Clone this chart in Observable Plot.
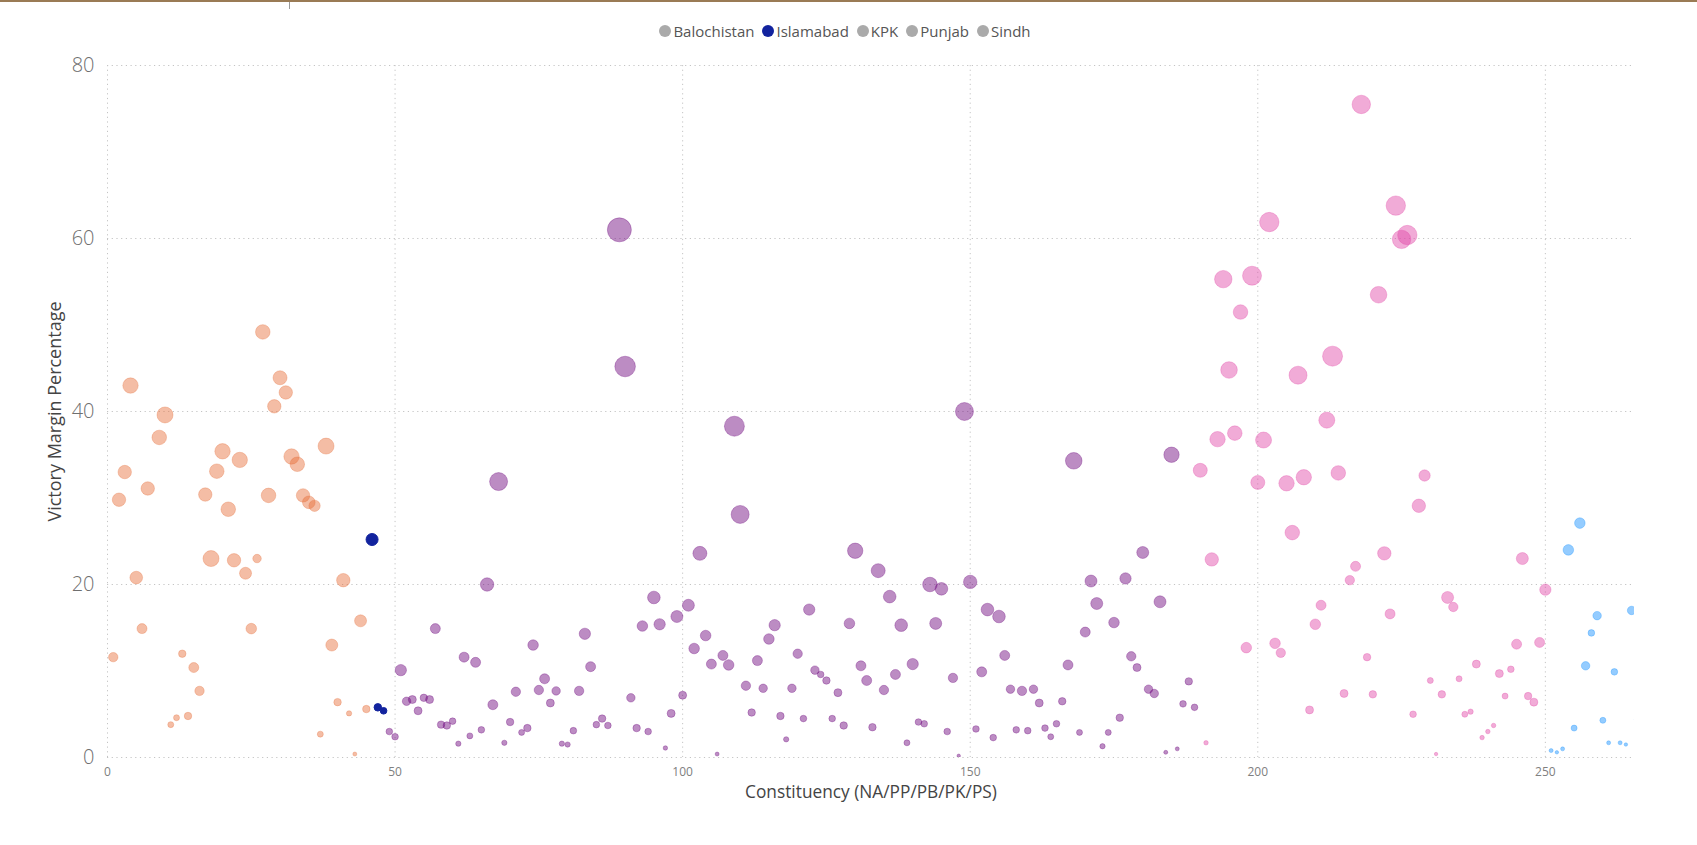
<!DOCTYPE html>
<html><head><meta charset="utf-8">
<script src="https://cdn.jsdelivr.net/npm/d3@7"></script>
<script src="https://cdn.jsdelivr.net/npm/@observablehq/plot@0.6"></script>
<style>
body{margin:0;background:#fff;font-family:"Open Sans","Noto Sans",sans-serif;}
#top{position:relative;height:50px;border-top:2px solid #9a7b55;box-sizing:border-box;}
#tick{position:absolute;left:289px;top:0;width:1px;height:7px;background:#9a9a9a;}
#legend{position:absolute;left:0;width:1690px;top:18.5px;display:flex;justify-content:center;align-items:center;font-size:15px;line-height:20px;color:#555;}
.item{display:flex;align-items:center;margin:0 4px;}
.sw{width:12px;height:12px;border-radius:50%;margin-right:2px;}
</style></head>
<body>
<div id="top"><div id="tick"></div><div id="legend"></div></div>
<div id="chart"></div>
<script>
const provinces = ["Balochistan","Islamabad","KPK","Punjab","Sindh"];
const provinceColors = ["#118DFF","#12239E","#E66C37","#6B007B","#E044A7"];
const legendColors = ["#aaaaaa","#12239E","#aaaaaa","#aaaaaa","#aaaaaa"];
const xTicks = [0,50,100,150,200,250];
const yTicks = [0,20,40,60,80];
const xTitle = "Constituency (NA/PP/PB/PK/PS)";
const yTitle = "Victory Margin Percentage";

// KPK
const kpkSeat = [1,2,3,4,5,6,7,9,10,11,12,13,14,15,16,17,18,19,20,21,22,23,24,25,26,27,28,29,30,31,32,33,34,35,36,37,38,39,40,41,42,43,44,45];
const kpkMargin = [11.6,29.8,33.0,43.0,20.8,14.9,31.1,37.0,39.6,3.8,4.6,12.0,4.8,10.4,7.7,30.4,23.0,33.1,35.4,28.7,22.8,34.4,21.3,14.9,23.0,49.2,30.3,40.6,43.9,42.2,34.8,33.9,30.3,29.5,29.1,2.7,36.0,13.0,6.4,20.5,5.1,0.4,15.8,5.6];
const kpkVotes = [22,45,45,59,40,25,45,53,64,9,9,14,14,25,22,45,64,53,59,53,45,59,36,28,18,53,53,45,49,45,59,53,45,40,32,9,64,36,14,45,7,4,36,14];
// Islamabad
const isbSeat = [46,47,48];
const isbMargin = [25.2,5.8,5.4];
const isbVotes = [36,14,11];
// Punjab
const pbSeat = [49,50,51,52,53,54,55,56,57,58,59,60,61,62,63,64,65,66,67,68,69,70,71,72,73,74,75,76,77,78,79,80,81,82,83,84,85,86,87,89,90,91,92,93,94,95,96,97,98,99,100,101,102,103,104,105,106,107,108,109,110,111,112,113,114,115,116,117,118,119,120,121,122,123,124,125,126,127,128,129,130,131,132,133,134,135,136,137,138,139,140,141,142,143,144,145,146,147,148,149,150,151,152,153,154,155,156,157,158,159,160,161,162,163,164,165,166,167,168,169,170,171,172,173,174,175,176,177,178,179,180,181,182,183,184,185,186,187,188,189];
const pbMargin = [3.0,2.4,10.1,6.5,6.7,5.4,6.9,6.7,14.9,3.8,3.7,4.2,1.6,11.6,2.5,11.0,3.2,20.0,6.1,31.9,1.7,4.1,7.6,2.9,3.4,13.0,7.8,9.1,6.3,7.7,1.6,1.5,3.1,7.7,14.3,10.5,3.8,4.5,3.7,61.0,45.2,6.9,3.4,15.2,3.0,18.5,15.4,1.1,5.1,16.3,7.2,17.6,12.6,23.6,14.1,10.8,0.4,11.8,10.7,38.3,28.1,8.3,5.2,11.2,8.0,13.7,15.3,4.8,2.1,8.0,12.0,4.5,17.1,10.1,9.6,8.9,4.5,7.5,3.7,15.5,23.9,10.6,8.9,3.5,21.6,7.8,18.6,9.6,15.3,1.7,10.8,4.1,3.9,20.0,15.5,19.5,3.0,9.2,0.2,40.0,20.3,3.3,9.9,17.1,2.3,16.3,11.8,7.9,3.2,7.7,3.1,7.9,6.3,3.4,2.4,3.9,6.5,10.7,34.3,2.9,14.5,20.4,17.8,1.3,2.9,15.6,4.6,20.7,11.7,10.4,23.7,7.9,7.4,18.0,0.6,35.0,1.0,6.2,8.8,5.8];
const pbVotes = [11,11,32,18,16,16,14,16,25,14,14,11,7,25,9,25,11,45,25,81,7,14,22,9,14,28,22,25,16,18,7,7,11,22,32,25,11,14,11,144,106,18,14,28,11,40,32,5,16,36,16,36,28,49,28,25,4,25,28,100,81,22,14,25,18,28,32,14,7,18,22,11,32,18,11,14,11,16,14,28,59,25,25,14,49,22,40,25,40,9,32,11,11,53,36,40,11,22,3,81,45,11,25,40,11,40,25,18,11,22,11,18,16,11,9,11,14,25,69,9,25,36,36,7,9,28,14,32,22,16,36,18,18,36,4,59,4,11,14,11];
// Sindh
const sdSeat = [190,191,192,193,194,195,196,197,198,199,200,201,202,203,204,205,206,207,208,209,210,211,212,213,214,215,216,217,218,219,220,221,222,223,224,225,226,227,228,229,230,231,232,233,234,235,236,237,238,239,240,241,242,243,244,245,246,247,248,249,250];
const sdMargin = [33.2,1.7,22.9,36.8,55.3,44.8,37.5,51.5,12.7,55.7,31.8,36.7,61.9,13.2,12.1,31.7,26.0,44.2,32.4,5.5,15.4,17.6,39.0,46.4,32.9,7.4,20.5,22.1,75.5,11.6,7.3,53.5,23.6,16.6,63.8,59.9,60.4,5.0,29.1,32.6,8.9,0.4,7.3,18.5,17.4,9.1,5.0,5.3,10.8,2.3,3.0,3.7,9.7,7.1,10.2,13.1,23.0,7.1,6.4,13.3,19.4];
const sdVotes = [49,5,45,59,76,69,53,53,28,90,49,64,94,28,22,59,53,81,59,16,28,25,64,100,53,16,22,25,85,14,14,69,45,25,94,85,94,11,45,32,9,3,14,36,22,9,9,7,16,5,5,5,16,9,11,25,36,14,16,25,32];
// Balochistan
const blSeat = [251,252,253,254,255,256,257,258,259,260,261,262,263,264,265,266];
const blMargin = [0.8,0.6,1.0,24.0,3.4,27.1,10.6,14.4,16.4,4.3,1.7,9.9,1.7,1.5,17.0,4.4];
const blVotes = [4,3,4,28,9,28,18,11,18,9,4,11,4,3,18,9];

const rows = [];
function add(prov, seat, margin, votes){
  seat.forEach((s,i)=>rows.push({province:prov, seat:s, margin:margin[i], votes:votes[i]}));
}
add("KPK", kpkSeat, kpkMargin, kpkVotes);
add("Islamabad", isbSeat, isbMargin, isbVotes);
add("Punjab", pbSeat, pbMargin, pbVotes);
add("Sindh", sdSeat, sdMargin, sdVotes);
add("Balochistan", blSeat, blMargin, blVotes);

// legend
const lg = document.getElementById("legend");
provinces.forEach((p,i)=>{
  const it = document.createElement("div"); it.className="item";
  const sw = document.createElement("div"); sw.className="sw"; sw.style.background=legendColors[i];
  const tx = document.createElement("span"); tx.textContent=p;
  it.appendChild(sw); it.appendChild(tx); lg.appendChild(it);
});

const others = rows.filter(d=>d.province!=="Islamabad");
const isb = rows.filter(d=>d.province==="Islamabad");
const font = "'Open Sans','Noto Sans',sans-serif";

const chart = Plot.plot({
  width:1697, height:795,
  marginLeft:107, marginRight:63, marginTop:15, marginBottom:88,
  x:{domain:[0,265.5], ticks:xTicks},
  y:{domain:[0,80], ticks:yTicks},
  r:{type:"sqrt", domain:[0,144], range:[0,12]},
  color:{domain:provinces, range:provinceColors},
  style:{fontFamily:font, background:"white", overflow:"visible"},
  marks:[
    Plot.gridY(yTicks,{stroke:"#c4c4c4", strokeOpacity:1, strokeDasharray:"1.2,3.5"}),
    Plot.gridX(xTicks,{stroke:"#c4c4c4", strokeOpacity:1, strokeDasharray:"1.2,3.5"}),
    Plot.dot(others,{x:"seat", y:"margin", r:"votes", fill:"province", fillOpacity:0.45, stroke:"province", strokeOpacity:0.3, strokeWidth:1, clip:"frame"}),
    Plot.dot(isb,{x:"seat", y:"margin", r:"votes", fill:"province", fillOpacity:1, stroke:"province", strokeWidth:1}),
    Plot.axisY(yTicks,{tickSize:0, tickPadding:13, fontSize:20, fill:"#6f6f6f", label:null, fontWeight:300}),
    Plot.axisX(xTicks,{tickSize:0, tickPadding:10, fontSize:12, fill:"#808080", label:null}),
    Plot.text([yTitle],{text:d=>d, frameAnchor:"left", dx:-52, rotate:-90, fontSize:18, fill:"#444", textAnchor:"middle"}),
    Plot.text([xTitle],{text:d=>d, frameAnchor:"bottom", dy:40, fontSize:17.3, fill:"#444", textAnchor:"middle"})
  ]
});
document.getElementById("chart").appendChild(chart);
</script>
</body></html>
